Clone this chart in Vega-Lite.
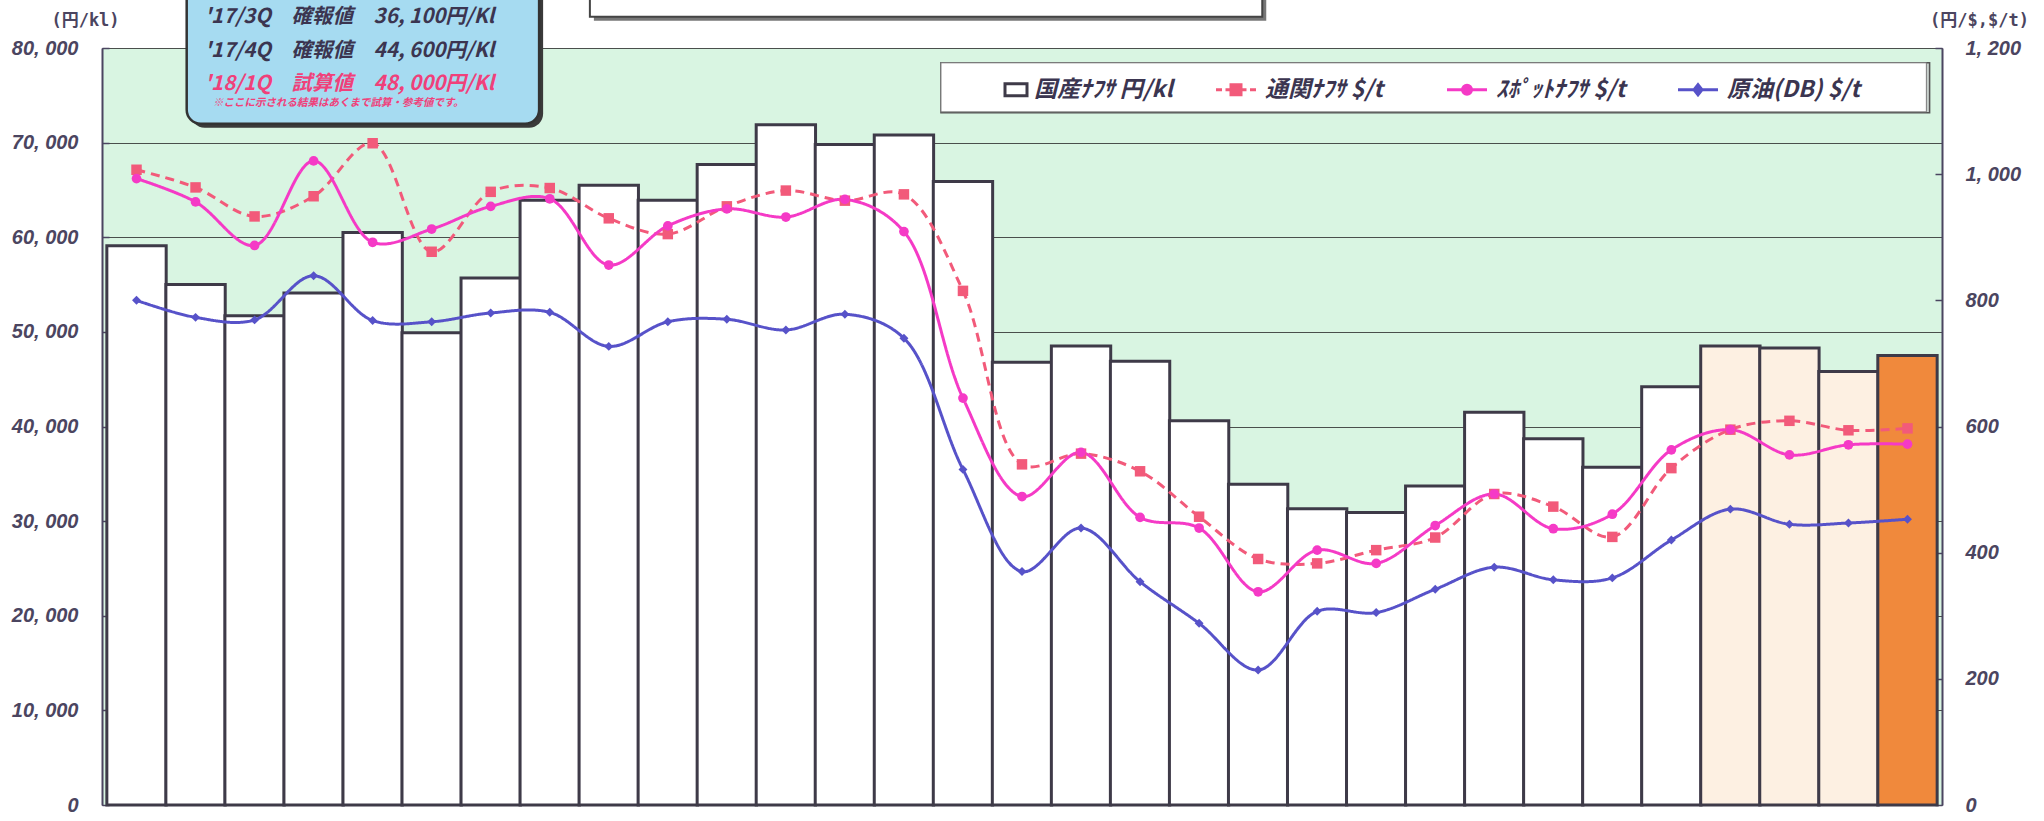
{
  "$schema": "https://vega.github.io/schema/vega-lite/v6.json",
  "width": 1840,
  "height": 757,
  "autosize": {"type": "none"},
  "padding": {"left": 102, "top": 48, "right": 102, "bottom": 16},
  "background": "#ffffff",
  "config": {
    "view": {"fill": "#d9f5e2", "stroke": "#8f9a94", "strokeWidth": 1},
    "axis": {
      "labelFont": "Liberation Sans, sans-serif",
      "labelFontSize": 20,
      "labelFontStyle": "italic",
      "labelFontWeight": "bold",
      "labelColor": "#4b4560",
      "tickColor": "#4b4560",
      "tickSize": -7,
      "tickWidth": 1.5,
      "domainColor": "#4b4560",
      "domainWidth": 2,
      "titleFont": "DejaVu Sans Mono, Noto Sans CJK JP",
      "titleFontSize": 17,
      "titleFontWeight": "bold",
      "titleColor": "#4b4560",
      "titleAngle": 0,
      "titleBaseline": "alphabetic",
      "titleAlign": "center",
      "gridColor": "#4a4f4c",
      "gridWidth": 1
    }
  },
  "datasets": {
    "bars": [
      {"i": 1, "series": "国産ﾅﾌｻ 円/kl", "value": 59100, "status": "確報"},
      {"i": 2, "series": "国産ﾅﾌｻ 円/kl", "value": 55000, "status": "確報"},
      {"i": 3, "series": "国産ﾅﾌｻ 円/kl", "value": 51700, "status": "確報"},
      {"i": 4, "series": "国産ﾅﾌｻ 円/kl", "value": 54100, "status": "確報"},
      {"i": 5, "series": "国産ﾅﾌｻ 円/kl", "value": 60500, "status": "確報"},
      {"i": 6, "series": "国産ﾅﾌｻ 円/kl", "value": 49900, "status": "確報"},
      {"i": 7, "series": "国産ﾅﾌｻ 円/kl", "value": 55700, "status": "確報"},
      {"i": 8, "series": "国産ﾅﾌｻ 円/kl", "value": 63900, "status": "確報"},
      {"i": 9, "series": "国産ﾅﾌｻ 円/kl", "value": 65500, "status": "確報"},
      {"i": 10, "series": "国産ﾅﾌｻ 円/kl", "value": 63900, "status": "確報"},
      {"i": 11, "series": "国産ﾅﾌｻ 円/kl", "value": 67700, "status": "確報"},
      {"i": 12, "series": "国産ﾅﾌｻ 円/kl", "value": 71900, "status": "確報"},
      {"i": 13, "series": "国産ﾅﾌｻ 円/kl", "value": 69800, "status": "確報"},
      {"i": 14, "series": "国産ﾅﾌｻ 円/kl", "value": 70800, "status": "確報"},
      {"i": 15, "series": "国産ﾅﾌｻ 円/kl", "value": 65900, "status": "確報"},
      {"i": 16, "series": "国産ﾅﾌｻ 円/kl", "value": 46800, "status": "確報"},
      {"i": 17, "series": "国産ﾅﾌｻ 円/kl", "value": 48500, "status": "確報"},
      {"i": 18, "series": "国産ﾅﾌｻ 円/kl", "value": 46900, "status": "確報"},
      {"i": 19, "series": "国産ﾅﾌｻ 円/kl", "value": 40600, "status": "確報"},
      {"i": 20, "series": "国産ﾅﾌｻ 円/kl", "value": 33900, "status": "確報"},
      {"i": 21, "series": "国産ﾅﾌｻ 円/kl", "value": 31300, "status": "確報"},
      {"i": 22, "series": "国産ﾅﾌｻ 円/kl", "value": 30900, "status": "確報"},
      {"i": 23, "series": "国産ﾅﾌｻ 円/kl", "value": 33700, "status": "確報"},
      {"i": 24, "series": "国産ﾅﾌｻ 円/kl", "value": 41500, "status": "確報"},
      {"i": 25, "series": "国産ﾅﾌｻ 円/kl", "value": 38700, "status": "確報"},
      {"i": 26, "series": "国産ﾅﾌｻ 円/kl", "value": 35700, "status": "確報"},
      {"i": 27, "series": "国産ﾅﾌｻ 円/kl", "value": 44200, "status": "確報"},
      {"i": 28, "series": "国産ﾅﾌｻ 円/kl", "value": 48500, "status": "速報"},
      {"i": 29, "series": "国産ﾅﾌｻ 円/kl", "value": 48300, "status": "速報"},
      {"i": 30, "series": "国産ﾅﾌｻ 円/kl", "value": 45800, "status": "速報"},
      {"i": 31, "series": "国産ﾅﾌｻ 円/kl", "value": 47500, "status": "試算"}
    ],
    "lines": [
      {"i": 1, "series": "通関ﾅﾌｻ $/t", "value": 1007},
      {"i": 2, "series": "通関ﾅﾌｻ $/t", "value": 979},
      {"i": 3, "series": "通関ﾅﾌｻ $/t", "value": 933},
      {"i": 4, "series": "通関ﾅﾌｻ $/t", "value": 965},
      {"i": 5, "series": "通関ﾅﾌｻ $/t", "value": 1049},
      {"i": 6, "series": "通関ﾅﾌｻ $/t", "value": 877},
      {"i": 7, "series": "通関ﾅﾌｻ $/t", "value": 972},
      {"i": 8, "series": "通関ﾅﾌｻ $/t", "value": 978},
      {"i": 9, "series": "通関ﾅﾌｻ $/t", "value": 930},
      {"i": 10, "series": "通関ﾅﾌｻ $/t", "value": 905},
      {"i": 11, "series": "通関ﾅﾌｻ $/t", "value": 949},
      {"i": 12, "series": "通関ﾅﾌｻ $/t", "value": 974},
      {"i": 13, "series": "通関ﾅﾌｻ $/t", "value": 958},
      {"i": 14, "series": "通関ﾅﾌｻ $/t", "value": 968},
      {"i": 15, "series": "通関ﾅﾌｻ $/t", "value": 815},
      {"i": 16, "series": "通関ﾅﾌｻ $/t", "value": 540},
      {"i": 17, "series": "通関ﾅﾌｻ $/t", "value": 557},
      {"i": 18, "series": "通関ﾅﾌｻ $/t", "value": 529},
      {"i": 19, "series": "通関ﾅﾌｻ $/t", "value": 457},
      {"i": 20, "series": "通関ﾅﾌｻ $/t", "value": 390},
      {"i": 21, "series": "通関ﾅﾌｻ $/t", "value": 383},
      {"i": 22, "series": "通関ﾅﾌｻ $/t", "value": 404},
      {"i": 23, "series": "通関ﾅﾌｻ $/t", "value": 424},
      {"i": 24, "series": "通関ﾅﾌｻ $/t", "value": 493},
      {"i": 25, "series": "通関ﾅﾌｻ $/t", "value": 473},
      {"i": 26, "series": "通関ﾅﾌｻ $/t", "value": 425},
      {"i": 27, "series": "通関ﾅﾌｻ $/t", "value": 534},
      {"i": 28, "series": "通関ﾅﾌｻ $/t", "value": 595},
      {"i": 29, "series": "通関ﾅﾌｻ $/t", "value": 609},
      {"i": 30, "series": "通関ﾅﾌｻ $/t", "value": 594},
      {"i": 31, "series": "通関ﾅﾌｻ $/t", "value": 597},
      {"i": 1, "series": "ｽﾎﾟｯﾄﾅﾌｻ $/t", "value": 993},
      {"i": 2, "series": "ｽﾎﾟｯﾄﾅﾌｻ $/t", "value": 956},
      {"i": 3, "series": "ｽﾎﾟｯﾄﾅﾌｻ $/t", "value": 887},
      {"i": 4, "series": "ｽﾎﾟｯﾄﾅﾌｻ $/t", "value": 1021},
      {"i": 5, "series": "ｽﾎﾟｯﾄﾅﾌｻ $/t", "value": 892},
      {"i": 6, "series": "ｽﾎﾟｯﾄﾅﾌｻ $/t", "value": 913},
      {"i": 7, "series": "ｽﾎﾟｯﾄﾅﾌｻ $/t", "value": 949},
      {"i": 8, "series": "ｽﾎﾟｯﾄﾅﾌｻ $/t", "value": 961},
      {"i": 9, "series": "ｽﾎﾟｯﾄﾅﾌｻ $/t", "value": 856},
      {"i": 10, "series": "ｽﾎﾟｯﾄﾅﾌｻ $/t", "value": 918},
      {"i": 11, "series": "ｽﾎﾟｯﾄﾅﾌｻ $/t", "value": 945},
      {"i": 12, "series": "ｽﾎﾟｯﾄﾅﾌｻ $/t", "value": 932},
      {"i": 13, "series": "ｽﾎﾟｯﾄﾅﾌｻ $/t", "value": 960},
      {"i": 14, "series": "ｽﾎﾟｯﾄﾅﾌｻ $/t", "value": 909},
      {"i": 15, "series": "ｽﾎﾟｯﾄﾅﾌｻ $/t", "value": 645},
      {"i": 16, "series": "ｽﾎﾟｯﾄﾅﾌｻ $/t", "value": 489},
      {"i": 17, "series": "ｽﾎﾟｯﾄﾅﾌｻ $/t", "value": 559},
      {"i": 18, "series": "ｽﾎﾟｯﾄﾅﾌｻ $/t", "value": 456},
      {"i": 19, "series": "ｽﾎﾟｯﾄﾅﾌｻ $/t", "value": 439},
      {"i": 20, "series": "ｽﾎﾟｯﾄﾅﾌｻ $/t", "value": 338},
      {"i": 21, "series": "ｽﾎﾟｯﾄﾅﾌｻ $/t", "value": 404},
      {"i": 22, "series": "ｽﾎﾟｯﾄﾅﾌｻ $/t", "value": 383},
      {"i": 23, "series": "ｽﾎﾟｯﾄﾅﾌｻ $/t", "value": 443},
      {"i": 24, "series": "ｽﾎﾟｯﾄﾅﾌｻ $/t", "value": 493},
      {"i": 25, "series": "ｽﾎﾟｯﾄﾅﾌｻ $/t", "value": 438},
      {"i": 26, "series": "ｽﾎﾟｯﾄﾅﾌｻ $/t", "value": 461},
      {"i": 27, "series": "ｽﾎﾟｯﾄﾅﾌｻ $/t", "value": 563},
      {"i": 28, "series": "ｽﾎﾟｯﾄﾅﾌｻ $/t", "value": 595},
      {"i": 29, "series": "ｽﾎﾟｯﾄﾅﾌｻ $/t", "value": 555},
      {"i": 30, "series": "ｽﾎﾟｯﾄﾅﾌｻ $/t", "value": 571},
      {"i": 31, "series": "ｽﾎﾟｯﾄﾅﾌｻ $/t", "value": 572},
      {"i": 1, "series": "原油(DB) $/t", "value": 800},
      {"i": 2, "series": "原油(DB) $/t", "value": 773},
      {"i": 3, "series": "原油(DB) $/t", "value": 769},
      {"i": 4, "series": "原油(DB) $/t", "value": 839},
      {"i": 5, "series": "原油(DB) $/t", "value": 768},
      {"i": 6, "series": "原油(DB) $/t", "value": 766},
      {"i": 7, "series": "原油(DB) $/t", "value": 780},
      {"i": 8, "series": "原油(DB) $/t", "value": 781},
      {"i": 9, "series": "原油(DB) $/t", "value": 727},
      {"i": 10, "series": "原油(DB) $/t", "value": 766},
      {"i": 11, "series": "原油(DB) $/t", "value": 770},
      {"i": 12, "series": "原油(DB) $/t", "value": 753},
      {"i": 13, "series": "原油(DB) $/t", "value": 778},
      {"i": 14, "series": "原油(DB) $/t", "value": 740},
      {"i": 15, "series": "原油(DB) $/t", "value": 532},
      {"i": 16, "series": "原油(DB) $/t", "value": 370},
      {"i": 17, "series": "原油(DB) $/t", "value": 439},
      {"i": 18, "series": "原油(DB) $/t", "value": 354},
      {"i": 19, "series": "原油(DB) $/t", "value": 288},
      {"i": 20, "series": "原油(DB) $/t", "value": 214},
      {"i": 21, "series": "原油(DB) $/t", "value": 307},
      {"i": 22, "series": "原油(DB) $/t", "value": 305},
      {"i": 23, "series": "原油(DB) $/t", "value": 342},
      {"i": 24, "series": "原油(DB) $/t", "value": 377},
      {"i": 25, "series": "原油(DB) $/t", "value": 357},
      {"i": 26, "series": "原油(DB) $/t", "value": 360},
      {"i": 27, "series": "原油(DB) $/t", "value": 420},
      {"i": 28, "series": "原油(DB) $/t", "value": 469},
      {"i": 29, "series": "原油(DB) $/t", "value": 445},
      {"i": 30, "series": "原油(DB) $/t", "value": 447},
      {"i": 31, "series": "原油(DB) $/t", "value": 453}
    ]
  },
  "resolve": {"scale": {"y": "independent"}},
  "layer": [
    {
      "data": {"name": "bars"},
      "mark": {"type": "bar", "width": 59.35, "strokeWidth": 3},
      "encoding": {
        "x": {"field": "i", "type": "quantitative", "scale": {"domain": [0.5, 31.5], "nice": false, "zero": false}, "axis": null},
        "y": {
          "field": "value",
          "type": "quantitative",
          "scale": {"domain": [0, 80000], "nice": false},
          "axis": {
            "orient": "left",
            "values": [0, 10000, 20000, 30000, 40000, 50000, 60000, 70000, 80000],
            "labelExpr": "replace(format(datum.value, ','), ',', ', ')",
            "labelPadding": 31,
            "grid": true,
            "title": "(円/kl)",
            "titleX": -17,
            "titleY": -23
          }
        },
        "fill": {
          "condition": [
            {"test": "datum.status === '試算'", "value": "#f0893c"},
            {"test": "datum.status === '速報'", "value": "#fdf0e2"}
          ],
          "value": "#ffffff"
        },
        "stroke": {
          "field": "series",
          "type": "nominal",
          "scale": {
            "domain": ["国産ﾅﾌｻ 円/kl", "通関ﾅﾌｻ $/t", "ｽﾎﾟｯﾄﾅﾌｻ $/t", "原油(DB) $/t"],
            "range": ["#3e3a48", "#f25a7a", "#f53ac6", "#5752c9"]
          },
          "legend": {
            "title": null,
            "orient": "none",
            "legendX": 878,
            "legendY": 30,
            "direction": "horizontal",
            "columns": 4,
            "gridAlign": "all",
            "columnPadding": 37,
            "padding": 0,
            "symbolSize": 100,
            "symbolStrokeWidth": 3,
            "labelOffset": 31,
            "labelFont": "Noto Sans CJK JP",
            "labelFontSize": 23,
            "labelFontStyle": "italic",
            "labelFontWeight": "bold",
            "labelColor": "#3b3550",
            "labelLimit": 400,
            "encoding": {
              "symbols": {
                "shape": {"value": {"expr": "datum.value == '国産ﾅﾌｻ 円/kl' ? 'M2.7,-1.2H7.1V1.2H2.7Z' : datum.value == '通関ﾅﾌｻ $/t' ? 'M-1.3,0H-0.1M0.6,0H1.7M3.7,0H4.8M5.5,0H6.7M1.7,-1H3.7V1H1.7Z' : datum.value == 'ｽﾎﾟｯﾄﾅﾌｻ $/t' ? 'M-1.3,0H6.7M1.8,0A0.9,0.9,0,1,1,3.6,0A0.9,0.9,0,1,1,1.8,0Z' : 'M-1.3,0H6.7M2.7,-1L3.5,0L2.7,1L1.9,0Z'"}},
                "fill": {"value": {"expr": "datum.value == '国産ﾅﾌｻ 円/kl' ? '#ffffff' : datum.value == '通関ﾅﾌｻ $/t' ? '#f25a7a' : datum.value == 'ｽﾎﾟｯﾄﾅﾌｻ $/t' ? '#f53ac6' : '#5752c9'"}},
                "strokeWidth": {"value": 3},
                "opacity": {"value": 1}
              }
            }
          }
        }
      }
    },
    {
      "data": {"name": "lines"},
      "encoding": {
        "x": {"field": "i", "type": "quantitative", "scale": {"domain": [0.5, 31.5], "nice": false, "zero": false}, "axis": null},
        "y": {
          "field": "value",
          "type": "quantitative",
          "scale": {"domain": [0, 1200], "nice": false},
          "axis": {
            "orient": "right",
            "values": [0, 200, 400, 600, 800, 1000, 1200],
            "labelExpr": "replace(format(datum.value, ','), ',', ', ')",
            "labelAlign": "left",
            "labelPadding": 30,
            "grid": false,
            "title": "(円/$,$/t)",
            "titleX": 37,
            "titleY": -23
          }
        }
      },
      "layer": [
        {
          "mark": {"type": "line", "interpolate": "catmull-rom", "strokeWidth": 3},
          "encoding": {
            "stroke": {
              "field": "series",
              "type": "nominal",
              "scale": {
                "domain": ["国産ﾅﾌｻ 円/kl", "通関ﾅﾌｻ $/t", "ｽﾎﾟｯﾄﾅﾌｻ $/t", "原油(DB) $/t"],
                "range": ["#3e3a48", "#f25a7a", "#f53ac6", "#5752c9"]
              }
            },
            "strokeDash": {
              "field": "series",
              "type": "nominal",
              "scale": {
                "domain": ["通関ﾅﾌｻ $/t", "ｽﾎﾟｯﾄﾅﾌｻ $/t", "原油(DB) $/t"],
                "range": [[9, 6], [1, 0], [1, 0]]
              },
              "legend": null
            }
          }
        },
        {
          "mark": {"type": "point", "filled": true, "opacity": 1, "strokeWidth": 0},
          "encoding": {
            "fill": {
              "field": "series",
              "type": "nominal",
              "scale": {
                "domain": ["通関ﾅﾌｻ $/t", "ｽﾎﾟｯﾄﾅﾌｻ $/t", "原油(DB) $/t"],
                "range": ["#f25a7a", "#f53ac6", "#5752c9"]
              },
              "legend": null
            },
            "shape": {
              "field": "series",
              "type": "nominal",
              "scale": {
                "domain": ["通関ﾅﾌｻ $/t", "ｽﾎﾟｯﾄﾅﾌｻ $/t", "原油(DB) $/t"],
                "range": ["square", "circle", "diamond"]
              },
              "legend": null
            },
            "size": {
              "field": "series",
              "type": "nominal",
              "scale": {
                "domain": ["通関ﾅﾌｻ $/t", "ｽﾎﾟｯﾄﾅﾌｻ $/t", "原油(DB) $/t"],
                "range": [110, 80, 60]
              },
              "legend": null
            }
          }
        }
      ]
    },
    {
      "layer": [
        {
          "data": {"values": [{}]},
          "mark": {"type": "rect", "fill": "#c8d0cc", "stroke": "#555555", "strokeWidth": 1.5},
          "encoding": {
            "x": {"datum": 14.627, "type": "quantitative", "axis": null},
            "x2": {"datum": 31.375},
            "y": {"datum": 78436, "type": "quantitative", "scale": {"domain": [0, 80000], "nice": false}, "axis": null},
            "y2": {"datum": 73150}
          }
        },
        {
          "data": {"values": [{}]},
          "mark": {"type": "rect", "fill": "#ffffff", "stroke": "#7a7a7a", "strokeWidth": 1},
          "encoding": {
            "x": {"datum": 14.627, "type": "quantitative", "axis": null},
            "x2": {"datum": 31.32},
            "y": {"datum": 78436, "type": "quantitative", "axis": null},
            "y2": {"datum": 73250}
          }
        },
        {
          "data": {"values": [{}]},
          "mark": {"type": "rect", "fill": "#777777", "xOffset": 4, "yOffset": 4, "x2Offset": 4, "y2Offset": 4},
          "encoding": {
            "x": {"datum": 8.68, "type": "quantitative", "axis": null},
            "x2": {"datum": 20.07},
            "y": {"datum": 90000, "type": "quantitative", "axis": null},
            "y2": {"datum": 83300}
          }
        },
        {
          "data": {"values": [{}]},
          "mark": {"type": "rect", "fill": "#ffffff", "stroke": "#444444", "strokeWidth": 2},
          "encoding": {
            "x": {"datum": 8.68, "type": "quantitative", "axis": null},
            "x2": {"datum": 20.07},
            "y": {"datum": 90000, "type": "quantitative", "axis": null},
            "y2": {"datum": 83300}
          }
        },
        {
          "data": {"values": [{}]},
          "mark": {"type": "rect", "fill": "#3a3a3a", "cornerRadius": 14, "xOffset": 4, "yOffset": 4, "x2Offset": 4, "y2Offset": 4},
          "encoding": {
            "x": {"datum": 1.85, "type": "quantitative", "axis": null},
            "x2": {"datum": 7.82},
            "y": {"datum": 90000, "type": "quantitative", "axis": null},
            "y2": {"datum": 72000}
          }
        },
        {
          "data": {"values": [{}]},
          "mark": {"type": "rect", "fill": "#a6dbf1", "stroke": "#333333", "strokeWidth": 2.5, "cornerRadius": 14},
          "encoding": {
            "x": {"datum": 1.85, "type": "quantitative", "axis": null},
            "x2": {"datum": 7.82},
            "y": {"datum": 90000, "type": "quantitative", "axis": null},
            "y2": {"datum": 72000}
          }
        },
        {
          "data": {"values": [{"text": "'17/3Q　確報値　36, 100円/Kl"}]},
          "mark": {"type": "text", "align": "left", "baseline": "alphabetic", "font": "Noto Sans CJK JP", "fontSize": 20.5, "fontStyle": "italic", "fontWeight": "bold", "color": "#3b3550"},
          "encoding": {
            "x": {"datum": 2.15, "type": "quantitative", "axis": null},
            "y": {"datum": 82660, "type": "quantitative", "axis": null},
            "text": {"field": "text"}
          }
        },
        {
          "data": {"values": [{"text": "'17/4Q　確報値　44, 600円/Kl"}]},
          "mark": {"type": "text", "align": "left", "baseline": "alphabetic", "font": "Noto Sans CJK JP", "fontSize": 20.5, "fontStyle": "italic", "fontWeight": "bold", "color": "#3b3550"},
          "encoding": {
            "x": {"datum": 2.15, "type": "quantitative", "axis": null},
            "y": {"datum": 79070, "type": "quantitative", "axis": null},
            "text": {"field": "text"}
          }
        },
        {
          "data": {"values": [{"text": "'18/1Q　試算値　48, 000円/Kl"}]},
          "mark": {"type": "text", "align": "left", "baseline": "alphabetic", "font": "Noto Sans CJK JP", "fontSize": 20.5, "fontStyle": "italic", "fontWeight": "bold", "color": "#f0407a"},
          "encoding": {
            "x": {"datum": 2.15, "type": "quantitative", "axis": null},
            "y": {"datum": 75581, "type": "quantitative", "axis": null},
            "text": {"field": "text"}
          }
        },
        {
          "data": {"values": [{"text": "※ここに示される結果はあくまで試算・参考値です。"}]},
          "mark": {"type": "text", "align": "left", "baseline": "alphabetic", "font": "Noto Sans CJK JP", "fontSize": 10.5, "fontStyle": "italic", "fontWeight": "bold", "color": "#f0407a"},
          "encoding": {
            "x": {"datum": 2.294, "type": "quantitative", "axis": null},
            "y": {"datum": 73890, "type": "quantitative", "axis": null},
            "text": {"field": "text"}
          }
        }
      ]
    }
  ]
}
